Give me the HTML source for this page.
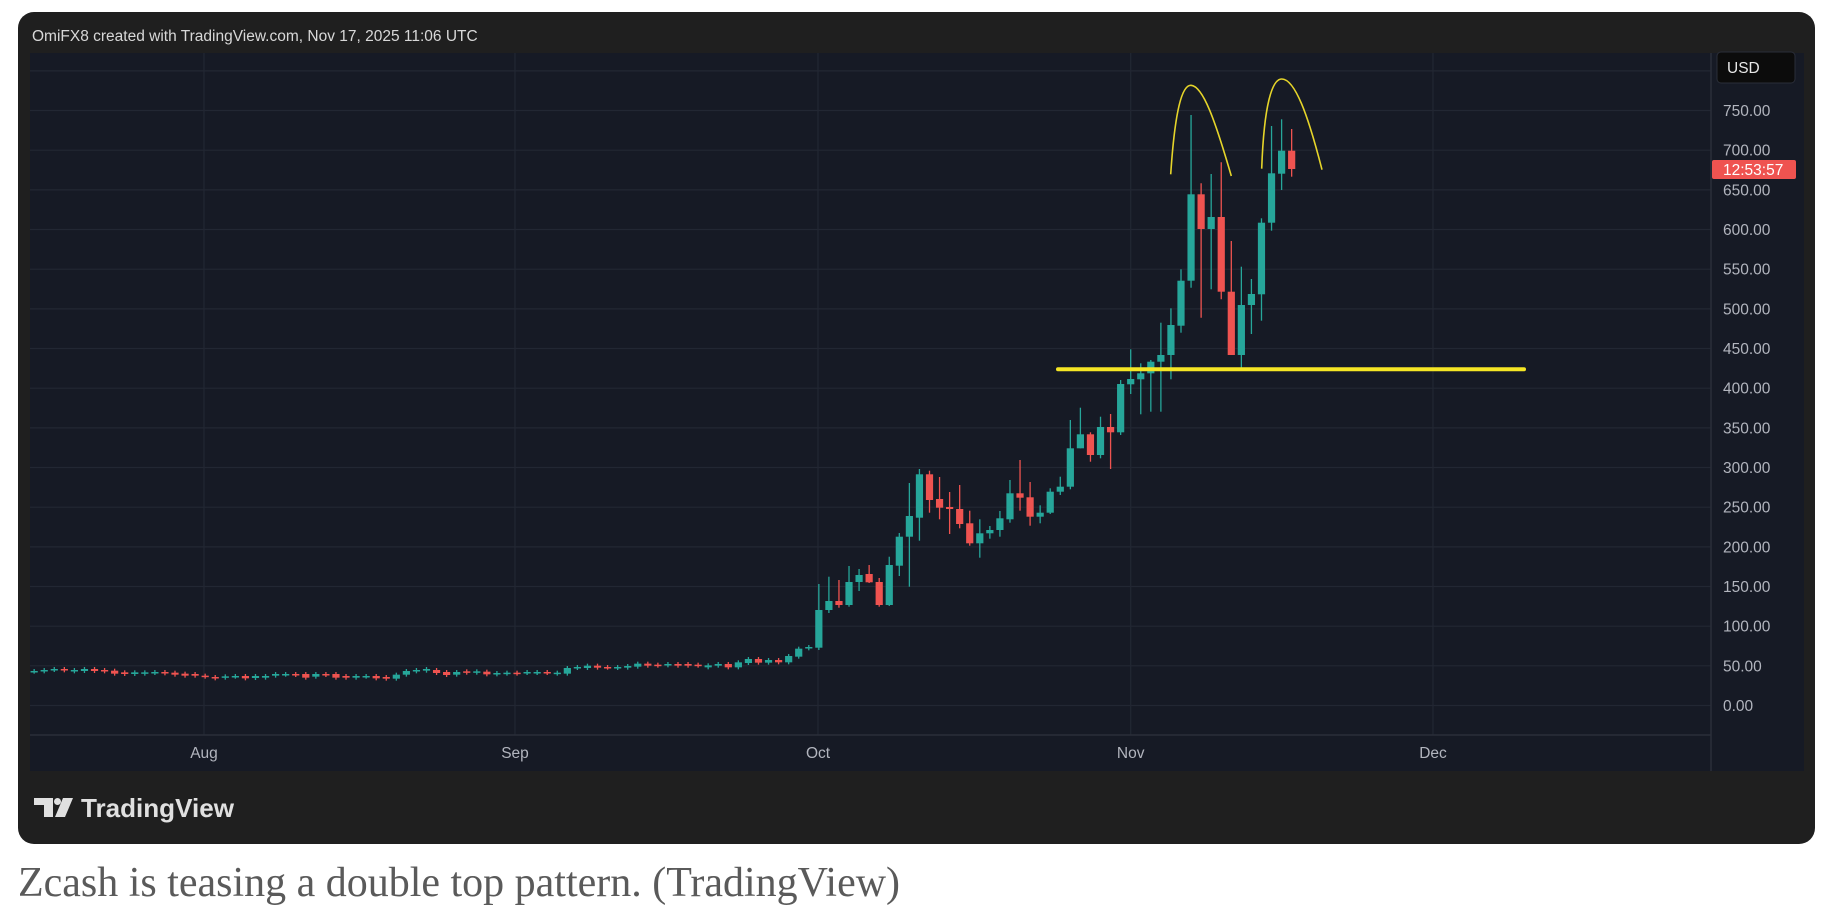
<!DOCTYPE html>
<html><head><meta charset="utf-8"><style>
html,body{margin:0;padding:0;background:#fff;width:1830px;height:914px;overflow:hidden}
svg{display:block}
</style></head><body>
<svg id="s" width="1830" height="914" xmlns="http://www.w3.org/2000/svg" font-family="Liberation Sans, sans-serif">
<rect x="18" y="12" width="1797" height="832" rx="16" fill="#1f1f1f"/>
<text x="32" y="36" dy="5" font-size="15.5" fill="#d8d8d8">OmiFX8 created with TradingView.com, Nov 17, 2025 11:06 UTC</text>
<rect x="30" y="53" width="1774" height="718" fill="#161a25"/>
<g id="grid" stroke="#222733" stroke-width="1.2"></g>
<line x1="1711" y1="53" x2="1711" y2="771" stroke="#2a2e39" stroke-width="1.5"/>
<line x1="30" y1="735" x2="1711" y2="735" stroke="#2a2e39" stroke-width="1.5"/>
<g id="labels" font-size="15.5" fill="#b2b5be"></g>
<g id="candles"></g>
<line x1="1058" y1="369.3" x2="1524" y2="369.3" stroke="#f5e625" stroke-width="4" stroke-linecap="round"/>
<path d="M1170.7,174.3 C1175,110 1182,85 1191,85.3 C1203,86 1215,120 1231.3,176" fill="none" stroke="#e6d52a" stroke-width="1.6"/>
<path d="M1261.7,168.7 C1264,105 1272,79 1281.7,79 C1295,79 1308,115 1322,169.7" fill="none" stroke="#e6d52a" stroke-width="1.6"/>
<rect x="1717" y="52" width="78" height="31" rx="4" fill="#0c0c0c" stroke="#2a2e39"/>
<text x="1727" y="73" font-size="15.5" fill="#e8e8e8">USD</text>
<rect x="1712" y="160" width="84" height="19" rx="2" fill="#ef5350"/>
<text x="1723" y="175" font-size="15.5" fill="#fff">12:53:57</text>
<g fill="#e0e0e0">
<path d="M34,798 H53 V817 H44 V805 H34 Z"/>
<circle cx="57.5" cy="801.5" r="3.5"/>
<path d="M63,798 H73 L65,817 H55 Z"/>
</g>
<text x="81" y="817" font-size="26" font-weight="bold" fill="#e0e0e0" textLength="153" lengthAdjust="spacingAndGlyphs">TradingView</text>
<text x="18" y="896" font-family="Liberation Serif, serif" font-size="42" fill="#5a5a5a" textLength="882" lengthAdjust="spacingAndGlyphs">Zcash is teasing a double top pattern. (TradingView)</text>
</svg>
<script>
var NS="http://www.w3.org/2000/svg";
function el(p,t,a,txt){var e=document.createElementNS(NS,t);for(var k in a)e.setAttribute(k,a[k]);if(txt)e.textContent=txt;document.getElementById(p).appendChild(e);}
function Y(p){return 705.5-p*0.7933;}
for(var p=0;p<=800;p+=50){var y=Y(p);el("grid","line",{x1:30,x2:1711,y1:y,y2:y});
 if(p<=750) el("labels","text",{x:1723,y:y+5.5},p.toFixed(2));}
var months=[["Aug",204],["Sep",515],["Oct",818],["Nov",1130.7],["Dec",1433]];
months.forEach(function(m){el("grid","line",{x1:m[1],x2:m[1],y1:53,y2:735});el("labels","text",{x:m[1],y:758,"text-anchor":"middle"},m[0]);});
// early candles: [color, topz, botz]
var A=[["G",63,65],["G",60,64],["G",57,60],["R",57,61],["G",60,64],["G",57,63],["R",57,63],["R",60,64],["R",62,71],["R",67,72],["G",67,72],["G",67,71],["G",66,69],["R",66,70],["R",68,74],["R",71,77],["R",72,77],["R",77,80],["R",81,85],["G",79,83],["G",78,80],["R",78,85],["G",78,84],["G",78,83],["G",72,77],["G",72,74],["R",72,75],["R",72,83],["G",72,80],["R",72,75],["R",72,83],["R",78,83],["G",78,83],["G",78,80],["R",78,85],["R",81,86],["G",74,86],["G",63,74],["G",60,64],["G",57,62],["R",60,69],["R",66,75]];
var B=[["G",126,134],["R",124,128],["G",124,128],["R",125,133],["G",129,133],["G",128,131],["R",128,131],["G",126,129],["G",126,129],["R",126,129],["G",128,131],["G",114,131],["G",111,114],["G",107,114],["R",107,113],["R",111,113],["G",111,114],["G",108,113],["G",101,110],["R",101,107],["R",104,107],["G",102,106],["R",102,107],["R",102,107],["R",104,107],["G",106,112],["G",102,107],["R",102,112],["G",97,112],["G",87,99],["R",87,98],["G",90,98],["R",90,97],["G",78,97],["G",56,80],["G",51,55]];
var C=[];
A.forEach(function(c){C.push([c[0],650+c[1]/3,650+c[2]/3,650+c[1]/3-2,650+c[2]/3+2]);});
B.forEach(function(c){C.push([c[0],630+c[1]/3,630+c[2]/3,630+c[1]/3-2,630+c[2]/3+2]);});
// [color, bodyTop, bodyBot, high, low]
var D=[["G",610,647.7,584,650],["G",601,610,576.7,613],["R",601,605,580,607.7],["G",582,605,566,606.7],["G",575,582,569,591],["R",574,582.3,565,583],["R",582,605,578,606.7],["G",565,605,556.7,606],["G",536.7,565.7,533,576],["G",516,536.7,483,586.7],["G",474.3,517.7,469,540.7],["R",474.3,500,470.7,512.7],["R",499,507.7,477,519.3],["R",507,509,492,534],["R",509,524,485,528.3],["R",523.3,543.3,510.7,545.7],["G",533.3,543.3,519.3,557.7],["G",530,533.3,526,538.7],["G",518.3,530,511,536.7],["G",493.3,519.3,480,522.7],["R",493.3,497.7,460,510.7],["R",497.3,516.7,482,525.7],["G",512.7,516.7,505.3,523.3],["G",491.7,512.7,488.3,514],["G",486.7,491.7,476.7,495],["G",448.3,486.7,420,489.3],["G",434.3,448.3,407.7,448.3],["R",434.3,455,432.3,461.7],["G",427,455,416.7,458.3],["R",427,432.3,414,469],["G",384,432.3,380,435],
["G",379,384.3,349.3,394],["G",373.3,379.3,363.3,414.3],["G",361.7,373.3,360,411.7],["G",355,361.7,322.7,411.7],["G",325,355,308.3,379.3],["G",280.7,325.7,269.3,332.7],["G",194.3,280.7,115,287.7],["R",194.3,229,183.3,317.7],["G",217,229,174,289.3],["R",217,291.7,162.3,299.3],["R",291.7,355,241,355],["G",305,355,266.7,369.3],["G",294,305,279,334],["G",222.7,294.3,218.3,320.7],["G",173.3,222.7,126,230.7],["G",150.7,173.7,119.3,190],["R",150.7,169,129,176.7]];
C=C.concat(D);
C.forEach(function(c,i){var k=i-109;var x=1130.7+10.06*k;var col=c[0]=="G"?"#26a69a":"#ef5350";
 el("candles","line",{x1:x,x2:x,y1:c[3],y2:c[4],stroke:col,"stroke-width":1.3});
 var h=Math.max(c[2]-c[1],1.5);
 el("candles","rect",{x:x-3.6,y:c[1],width:7.2,height:h,fill:col});});
</script>
</body></html>
